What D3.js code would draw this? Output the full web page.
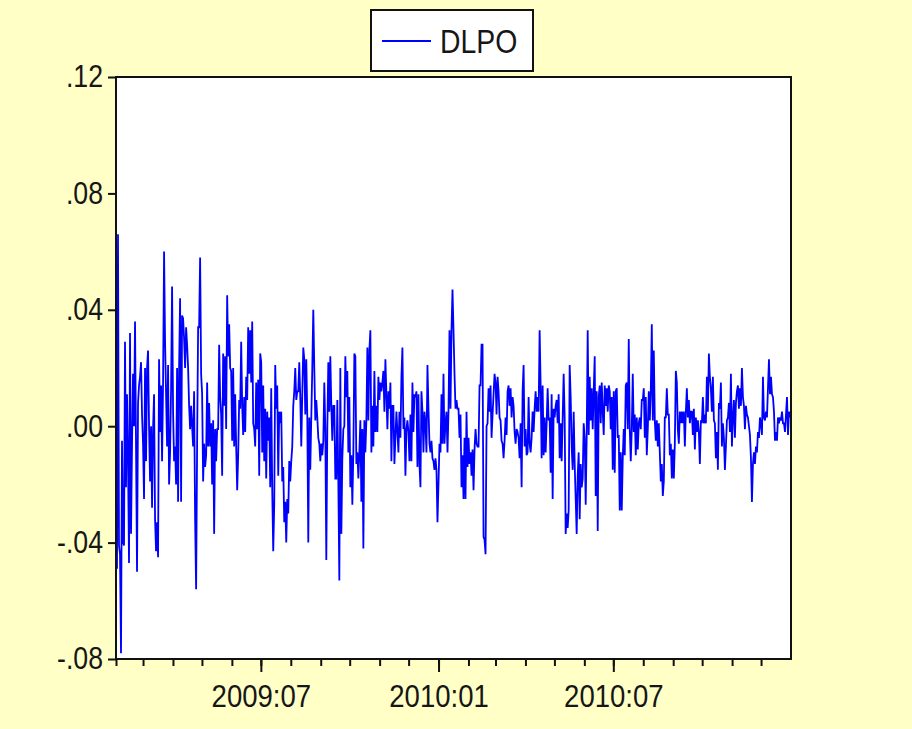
<!DOCTYPE html>
<html>
<head>
<meta charset="utf-8">
<script src="https://cdn.jsdelivr.net/npm/d3@7"></script>
<style>
  body { margin: 0; background: #ffffc6; }
  svg { display: block; }
  text { font-family: "Liberation Sans", Arial, sans-serif; fill: #161616; }
</style>
</head>
<body>
<svg width="912" height="729"></svg>
<script>
// DLPO, one value per observation, Feb 2009 .. Dec 2010
const dlpo = [
  -0.049, 0.066, -0.041, -0.044, -0.078, -0.005, -0.040, -0.041, 0.029, -0.021, 0.011,
  -0.011, -0.047, 0.032, -0.037, -0.006, 0.018, 0.000, 0.036, -0.007, -0.050,
  0.008, 0.014, 0.017, 0.022, 0.004, -0.006, -0.025, 0.020, -0.012, 0.020, 0.026,
  0.000, -0.019, 0.000, -0.028, -0.001, 0.011, -0.032, -0.043, -0.033, -0.045,
  0.023, -0.002, 0.014, -0.012, 0.015, 0.060, 0.029, 0.011, -0.007, 0.021, -0.020,
  -0.009, 0.013, 0.048, 0.005, -0.012, -0.007, -0.020, 0.020, -0.026, 0.020,
  0.044, -0.026, 0.038, 0.037, 0.030, 0.020, 0.034, 0.028, 0.020, 0.007, -0.001,
  0.007, 0.000, -0.007, 0.012, -0.032, -0.056, -0.006, 0.034, 0.034, 0.058, 0.018,
  0.011, -0.019, -0.006, -0.014, -0.010, 0.015, -0.007, 0.008, -0.007, 0.001, -0.020,
  0.002, -0.037, -0.001, -0.012, -0.001, -0.001, 0.028, 0.010, 0.004, -0.017, 0.025,
  0.007, 0.024, -0.001, 0.045,
  0.024, 0.035, 0.020, 0.019, -0.005, 0.020, -0.007, 0.011, -0.007, -0.022,
  -0.010, 0.009, 0.006, 0.029, 0.007, -0.003, 0.010, -0.002, 0.017, 0.009,
  0.034, 0.018, 0.033, 0.015, 0.036, 0.001, -0.001, -0.007, 0.015, -0.001,
  0.016, -0.017, 0.025, 0.022, -0.009, 0.014, -0.012, 0.006, -0.018, 0.005,
  -0.005, 0.003, -0.021, 0.013, -0.022, -0.043, -0.027, 0.021, 0.006, 0.014,
  -0.017, 0.005, 0.001, 0.005, -0.019, -0.014, -0.033, -0.026, -0.040, -0.025,
  -0.030, -0.012, -0.019, -0.012, -0.007, 0.007, 0.012, 0.020, 0.009, 0.012,
  0.012, 0.022, 0.010, -0.007, 0.011, 0.027, 0.023, 0.004, 0.023, 0.004,
  -0.040, 0.003, -0.015, 0.003, 0.020, 0.040, 0.020, 0.002, 0.009, 0.003,
  -0.004, -0.006, -0.012, -0.006, -0.010, -0.005, 0.015, -0.001, -0.046, -0.001,
  0.022, 0.005, 0.024, 0.007, -0.005, 0.007, 0.007, -0.018, -0.018, 0.009,
  -0.019, -0.053,
  0.020, -0.037, -0.011, -0.001, 0.000, 0.024, 0.010, 0.019, -0.009, 0.010,
  -0.021, -0.010, -0.027, -0.009, 0.025, 0.024, -0.013, -0.009, -0.018, -0.009,
  0.002, -0.026, -0.001, -0.042, 0.002, -0.009, 0.002, 0.027, 0.002, 0.026,
  0.033, -0.009, 0.007, -0.007, 0.019, -0.002, 0.007, -0.002, 0.017, 0.009,
  0.015, 0.012, 0.015, 0.019, 0.005, 0.023, 0.011, -0.001, 0.012, 0.006,
  0.015, -0.012, 0.007, 0.007, -0.013, -0.004, 0.005, -0.002, -0.009, 0.005,
  -0.004, 0.017, 0.027, -0.001, 0.003, -0.017, -0.001, 0.002, -0.002, -0.012,
  0.004, -0.012, 0.015, -0.002, 0.011, 0.010, 0.012, -0.014, 0.011, -0.013,
  -0.021, 0.012, 0.005, -0.009, 0.005, 0.001, -0.009, 0.021, 0.006, -0.006,
  -0.009, -0.005, -0.011, -0.012, -0.015, -0.011, -0.015, -0.033, -0.020, -0.006,
  -0.009, 0.011, -0.006, 0.018, -0.006, 0.001, 0.005, -0.009, 0.005, 0.033,
  0.006, 0.033, 0.047,
  0.033, 0.018, 0.006, 0.009, 0.006, 0.006, -0.004, 0.004, -0.021, -0.010,
  -0.025, -0.004, -0.025, 0.005, -0.014, -0.004, -0.013, -0.009, -0.017, -0.008,
  -0.022, -0.008, -0.001, -0.006, -0.007, -0.007, 0.014, 0.014, 0.028, 0.028,
  -0.038, -0.039, -0.044, 0.000, 0.001, 0.013, 0.005, 0.014, -0.004, 0.004,
  0.011, 0.018, 0.015, 0.004, 0.017, 0.012, 0.003, 0.002, -0.005, -0.006,
  -0.011, -0.005, 0.003, -0.003, 0.012, 0.014, 0.007, 0.013, 0.003, 0.010,
  0.007, -0.002, -0.006, -0.001, -0.002, -0.004, -0.011, 0.001, -0.021, 0.012,
  0.021, -0.007, -0.001, -0.010, -0.009, 0.010, -0.006, -0.009, -0.004, 0.005,
  -0.002, 0.006, 0.012, 0.005, 0.010, 0.005, 0.033, 0.014, -0.011, 0.014,
  -0.010, 0.003, -0.009, 0.001, 0.013, 0.002, 0.003, -0.016, 0.011, -0.025,
  0.006, 0.003, 0.007, 0.009, 0.001, 0.011, -0.011, 0.001, -0.012, 0.003,
  0.018, 0.003, -0.037,
  -0.030, -0.035, -0.029, 0.021, 0.010, -0.007, -0.015, 0.005, -0.013, -0.025,
  -0.037, -0.017, -0.009, -0.032, -0.013, -0.021, -0.018, 0.001, -0.004, -0.027,
  -0.003, 0.033, -0.003, 0.017, 0.002, 0.013, -0.001, 0.012, 0.024, -0.024,
  0.012, -0.036, 0.010, 0.014, 0.001, 0.015, 0.005, -0.003, 0.014, 0.007,
  0.013, 0.005, 0.014, 0.012, -0.001, 0.010, -0.015, 0.012, -0.016, 0.012,
  0.013, -0.004, -0.003, -0.029, -0.009, -0.029, -0.011, -0.001, -0.010, 0.014,
  0.015, -0.001, 0.030, -0.001, -0.012, -0.001, 0.018, -0.002, 0.004, -0.010,
  0.003, -0.008, 0.001, 0.003, -0.001, 0.009, 0.009, 0.013, -0.004, 0.010,
  -0.010, -0.001, 0.012, 0.002, 0.012, 0.035, 0.002, 0.026, 0.002, -0.005,
  0.002, -0.007, 0.001, -0.009, -0.019, -0.013, -0.024, -0.019, 0.003, 0.003,
  0.013, 0.004, 0.004, -0.010, -0.006, -0.018, -0.008, -0.018, -0.006, 0.019,
  0.015, -0.001,
  -0.006, 0.005, 0.001, 0.005, 0.001, 0.005, -0.007, 0.005, 0.013, 0.003,
  0.009, 0.001, 0.005, 0.005, -0.003, 0.006, -0.008, 0.003, -0.002, 0.002,
  -0.002, -0.013, 0.002, 0.001, 0.010, 0.001, 0.004, 0.001, 0.017, 0.005,
  0.025, 0.017, 0.013, 0.005, 0.017, 0.002, 0.001, -0.011, -0.002, -0.015,
  0.008, 0.006, 0.015, -0.007, 0.001, -0.004, -0.015, -0.007, 0.002, 0.003,
  0.008, -0.002, 0.018, -0.007, 0.003, 0.009, -0.004, 0.008, 0.012, 0.014,
  0.006, 0.013, 0.007, 0.020, 0.010, 0.007, -0.001, 0.007, 0.004, 0.003,
  0.000, -0.003, -0.011, -0.026, -0.013, -0.009, -0.013, -0.007, -0.009, -0.002,
  -0.004, 0.003, 0.001, -0.003, 0.017, 0.003, 0.002, 0.005, 0.003, 0.013,
  0.023, 0.011, 0.017, 0.011, 0.010, 0.005, -0.005, -0.002, -0.005, 0.003,
  0.001, 0.003, 0.002, 0.005, 0.001, 0.001, -0.002, 0.004, 0.010, -0.003,
  0.005, 0.003
];

const yTicks = [0.12, 0.08, 0.04, 0.00, -0.04, -0.08];
const majorMonths = [new Date(2009, 6, 1), new Date(2010, 0, 1), new Date(2010, 6, 1)];
const majorLabels = ["2009:07", "2010:01", "2010:07"];
const seriesName = "DLPO";

const svg = d3.select("svg");
const plotLeft = 116, plotRight = 791, plotTop = 77, plotBottom = 659;

// the original uses a tall, narrow bitmap font: squeeze glyphs horizontally
function narrow(sel) {
  sel.each(function () {
    const w = this.getComputedTextLength();
    d3.select(this).attr("textLength", w * 0.86).attr("lengthAdjust", "spacingAndGlyphs");
  });
}

svg.append("rect")
  .attr("width", 912).attr("height", 729)
  .attr("fill", "#ffffc6");

svg.append("rect")
  .attr("x", plotLeft).attr("y", plotTop)
  .attr("width", plotRight - plotLeft).attr("height", plotBottom - plotTop)
  .attr("fill", "white");

const x = d3.scaleLinear()
  .domain([0, dlpo.length - 1])
  .range([plotLeft + 1, plotRight - 1]);

const xTime = d3.scaleTime()
  .domain([new Date(2009, 1, 1), new Date(2011, 0, 1)])
  .range([plotLeft, plotRight]);

const y = d3.scaleLinear()
  .domain([-0.08, 0.12])
  .range([plotBottom, plotTop]);

const line = d3.line()
  .x((d, i) => x(i))
  .y(d => y(d));

svg.append("path")
  .datum(dlpo)
  .attr("fill", "none")
  .attr("stroke", "#0000ff")
  .attr("stroke-width", 1.8)
  .attr("d", line);

svg.append("rect")
  .attr("x", plotLeft).attr("y", plotTop)
  .attr("width", plotRight - plotLeft).attr("height", plotBottom - plotTop)
  .attr("fill", "none")
  .attr("stroke", "#111")
  .attr("stroke-width", 2);

// y axis
const fmt = d => d3.format(".2f")(d).replace("0.", ".").replace("\u2212", "-");
const yAxis = svg.append("g")
  .attr("transform", `translate(${plotLeft},0)`)
  .call(d3.axisLeft(y).tickValues(yTicks).tickSize(8).tickPadding(5).tickFormat(fmt));
yAxis.select(".domain").remove();
yAxis.selectAll("line").attr("stroke", "#111").attr("stroke-width", 2);
yAxis.selectAll("text").attr("font-size", 31).attr("fill", "#161616")
  .attr("font-family", "Liberation Sans, Arial, sans-serif")
  .call(narrow);

// x axis: monthly minor ticks, labelled major ticks
const months = d3.timeMonth.range(new Date(2009, 1, 1), new Date(2011, 0, 1));
const xMinor = svg.append("g")
  .attr("transform", `translate(0,${plotBottom})`)
  .call(d3.axisBottom(xTime).tickValues(months).tickSize(7).tickFormat(""));
xMinor.select(".domain").remove();
xMinor.selectAll("line").attr("stroke", "#111").attr("stroke-width", 2);

const xMajor = svg.append("g")
  .attr("transform", `translate(0,${plotBottom})`)
  .call(d3.axisBottom(xTime).tickValues(majorMonths).tickSize(13).tickPadding(12)
    .tickFormat((d, i) => majorLabels[i]));
xMajor.select(".domain").remove();
xMajor.selectAll("line").attr("stroke", "#111").attr("stroke-width", 2);
xMajor.selectAll("text").attr("font-size", 32).attr("fill", "#161616")
  .attr("font-family", "Liberation Sans, Arial, sans-serif")
  .call(narrow);

// legend
const legend = svg.append("g");
legend.append("rect")
  .attr("x", 371).attr("y", 10)
  .attr("width", 162).attr("height", 61)
  .attr("fill", "white")
  .attr("stroke", "#111")
  .attr("stroke-width", 2);
legend.append("line")
  .attr("x1", 382).attr("x2", 431)
  .attr("y1", 41).attr("y2", 41)
  .attr("stroke", "#0000ff")
  .attr("stroke-width", 2);
legend.append("text")
  .attr("x", 440).attr("y", 53)
  .attr("font-size", 33)
  .text(seriesName)
  .call(narrow);
</script>
</body>
</html>
